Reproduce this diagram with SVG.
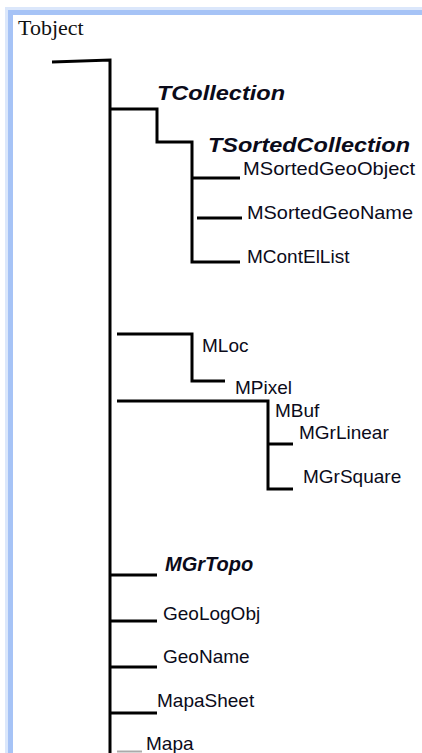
<svg xmlns="http://www.w3.org/2000/svg" width="422" height="753" viewBox="0 0 422 753">
<style>
.ln{fill:none;stroke:#000;stroke-width:3;stroke-linejoin:miter;stroke-linecap:butt}
.t{font-family:"Liberation Sans",Arial,sans-serif;font-size:19px;fill:#0b0b1a}
.b{font-weight:bold;font-style:italic;font-size:20px}
.s{font-family:"Liberation Serif","Times New Roman",serif;font-size:22px;fill:#111}
</style>
<rect width="422" height="753" fill="#fff"/>
<rect x="9" y="11" width="430" height="760" fill="none" stroke="#dbe7fb" stroke-width="8"/>
<rect x="10.5" y="12.5" width="430" height="760" fill="#fff" stroke="#a6c3f6" stroke-width="5"/>
<g id="connectors">
<path class="ln" d="M52,62 L110,60 L110,753"/>
<path class="ln" d="M110,109 L157,109 L157,142 L192,142 L192,262 L240,262"/>
<path class="ln" d="M193,178 L240,178"/>
<path class="ln" d="M197,218 L242,218"/>
<path class="ln" d="M117,334 L192,334 L192,381 L225,381"/>
<path class="ln" d="M117,401 L268,401 L268,489 L293,489"/>
<path class="ln" d="M268,444 L293,444"/>
<path class="ln" d="M110,575 L157,575"/>
<path class="ln" d="M110,621 L157,621"/>
<path class="ln" d="M110,667 L157,667"/>
<path class="ln" d="M110,713 L157,713"/>
<path d="M117,751.5 L142,751.5" stroke="#aaa" stroke-width="2" fill="none"/>
</g>
<g id="Tobject"><text class="s" x="18" y="35">Tobject</text></g>
<g id="TCollection"><text class="t b" x="157" y="100" textLength="128" lengthAdjust="spacingAndGlyphs">TCollection</text></g>
<g id="TSortedCollection"><text class="t b" x="208" y="152" textLength="202" lengthAdjust="spacingAndGlyphs">TSortedCollection</text></g>
<g id="MSortedGeoObject"><text class="t" x="243" y="175" textLength="172" lengthAdjust="spacingAndGlyphs">MSortedGeoObject</text></g>
<g id="MSortedGeoName"><text class="t" x="247" y="219" textLength="166" lengthAdjust="spacingAndGlyphs">MSortedGeoName</text></g>
<g id="MContElList"><text class="t" x="247" y="263">MContElList</text></g>
<g id="MLoc"><text class="t" x="202" y="352">MLoc</text></g>
<g id="MPixel"><text class="t" x="235" y="394">MPixel</text></g>
<g id="MBuf"><text class="t" x="275" y="417">MBuf</text></g>
<g id="MGrLinear"><text class="t" x="299" y="439">MGrLinear</text></g>
<g id="MGrSquare"><text class="t" x="303" y="483">MGrSquare</text></g>
<g id="MGrTopo"><text class="t b" x="165" y="571" font-size="19">MGrTopo</text></g>
<g id="GeoLogObj"><text class="t" x="163" y="620">GeoLogObj</text></g>
<g id="GeoName"><text class="t" x="163" y="663">GeoName</text></g>
<g id="MapaSheet"><text class="t" x="157" y="707">MapaSheet</text></g>
<g id="Mapa"><text class="t" x="146" y="750">Mapa</text></g>
</svg>
